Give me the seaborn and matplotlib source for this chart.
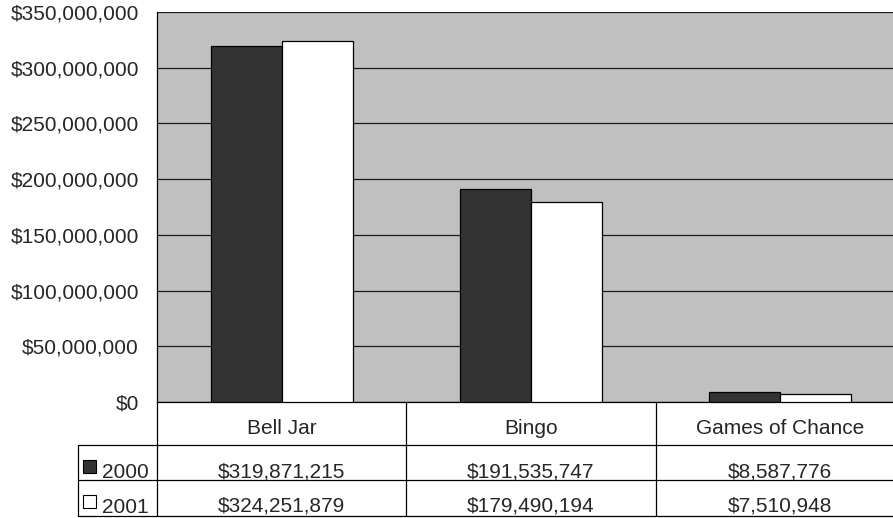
import matplotlib
matplotlib.use("Agg")
import matplotlib.pyplot as plt
import matplotlib.transforms as mtransforms
from matplotlib.lines import Line2D
from matplotlib.patches import Rectangle
from matplotlib.ticker import FuncFormatter, MultipleLocator
import pandas as pd
import seaborn as sns

# ── Data ──────────────────────────────────────────────────────────────────────
categories = ["Bell Jar", "Bingo", "Games of Chance"]
years = ["2000", "2001"]
values_2000 = [319871215, 191535747, 8587776]
values_2001 = [324251879, 179490194, 7510948]
year_colors = ["#333333", "#ffffff"]

df = pd.DataFrame({
    "category": categories * 2,
    "year": [years[0]] * 3 + [years[1]] * 3,
    "value": values_2000 + values_2001,
})

# ── Style ─────────────────────────────────────────────────────────────────────
sns.set_style("white")
plt.rcParams["font.family"] = ["Liberation Sans", "DejaVu Sans"]
FS = 15

W, H = 893, 518
fig = plt.figure(figsize=(W / 100, H / 100), dpi=100)
# plot area in pixels: left 157, right 905 (clipped by figure), top 12, bottom 402
ax = fig.add_axes([157 / W, (H - 402) / H, (905 - 157) / W, 390 / H])
ax.set_facecolor("#c0c0c0")

sns.barplot(
    data=df, x="category", y="value", hue="year",
    order=categories, hue_order=years,
    palette=year_colors, width=0.57, gap=0,
    edgecolor="black", linewidth=0.9, legend=False, ax=ax, zorder=3,
)

ax.set_xlim(-0.5, 2.5)
ax.set_ylim(0, 350_000_000)
ax.yaxis.set_major_locator(MultipleLocator(50_000_000))
ax.yaxis.set_major_formatter(FuncFormatter(lambda v, _: f"${v:,.0f}"))
ax.grid(axis="y", color="#1a1a1a", lw=0.9, zorder=1)
ax.set_axisbelow(True)
ax.set_xlabel("")
ax.set_ylabel("")
ax.set_xticks([])
ax.tick_params(axis="y", direction="out", length=5, width=0.9,
               color="black", labelsize=FS, pad=8)
for side in ["top", "right"]:
    ax.spines[side].set_visible(False)
for side in ["left", "bottom"]:
    ax.spines[side].set_color("black")
    ax.spines[side].set_linewidth(0.9)

# ── Data table under the axis ─────────────────────────────────────────────────
trans = mtransforms.blended_transform_factory(ax.transData, ax.transAxes)
px = 1 / 390   # one pixel in axes-height units
pxx = 1 / 748  # one pixel in axes-width units
y_head = -43 * px
y_r1 = -78 * px
y_r2 = -114 * px
x_left = -(157 - 78) * pxx
ta = ax.transAxes
lkw = dict(color="black", lw=0.9, clip_on=False)

# horizontal rules
for yy in (y_head, y_r1, y_r2):
    ax.add_line(Line2D([x_left, 1], [yy, yy], transform=ta, **lkw))
# vertical rules between categories
for b in [-0.5, 0.5, 1.5]:
    ax.add_line(Line2D([b, b], [0, y_r2], transform=trans, **lkw))
ax.add_line(Line2D([x_left, x_left], [y_head, y_r2], transform=ta, **lkw))

for i, cat in enumerate(categories):
    ax.text(i, -32 * px, cat, transform=trans, ha="center", va="baseline", fontsize=FS)
    ax.text(i, -75 * px, f"${values_2000[i]:,}", transform=trans,
            ha="center", va="baseline", fontsize=FS)
    ax.text(i, -110 * px, f"${values_2001[i]:,}", transform=trans,
            ha="center", va="baseline", fontsize=FS)

# legend keys in the first column
for yr, col, y_box, y_txt in zip(years, year_colors, (-71 * px, -106 * px), (-76 * px, -111 * px)):
    ax.add_patch(Rectangle((x_left + 5 * pxx, y_box), 13 * pxx, 13 * px,
                           transform=ta, facecolor=col, edgecolor="black",
                           lw=0.8, clip_on=False))
    ax.text(x_left + 24 * pxx, y_txt, yr, transform=ta, ha="left",
            va="baseline", fontsize=FS)

fig.savefig("out.png", dpi=100)
